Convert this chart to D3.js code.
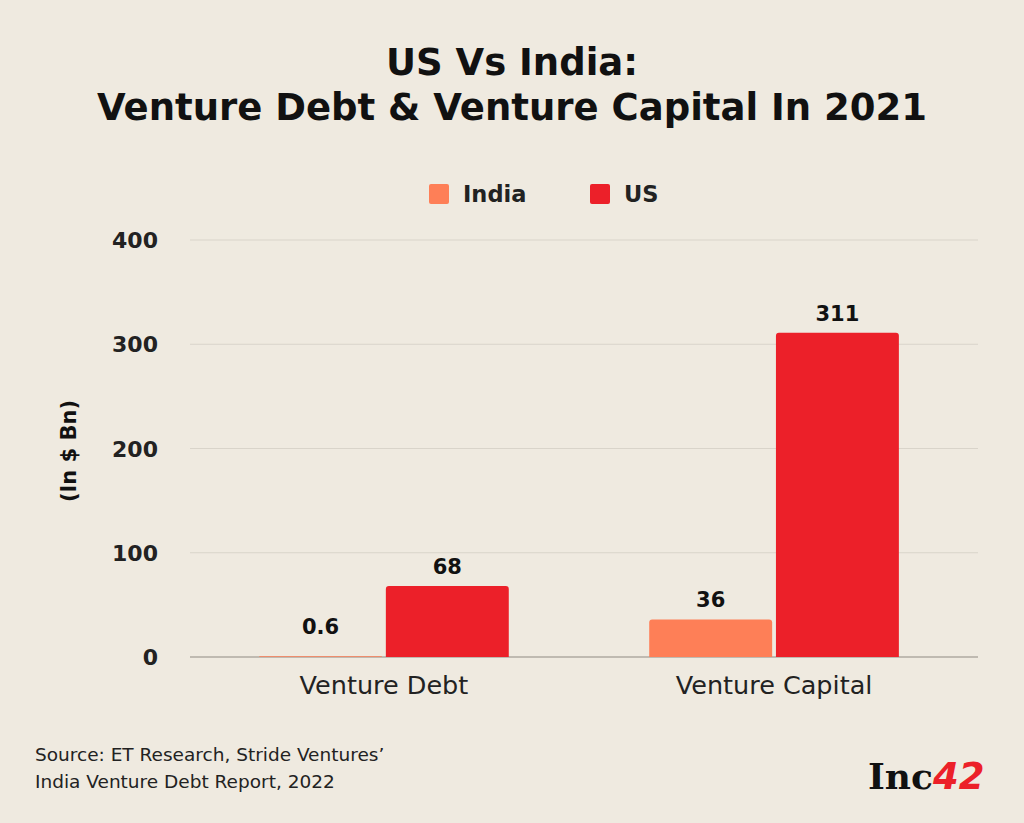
<!DOCTYPE html>
<html><head><meta charset="utf-8">
<script src="https://cdn.jsdelivr.net/npm/d3@7"></script>
<style>body{margin:0;background:#EFEAE0;} svg{display:block;}</style>
</head><body>
<svg id="c" width="1024" height="823"></svg>
<script>
const categories = ["Venture Debt", "Venture Capital"];
const seriesNames = ["India", "US"];
const indiaValues = [0.6, 36];
const usValues = [68, 311];
const valueLabels = [["0.6", "68"], ["36", "311"]];
const yTicks = [0, 100, 200, 300, 400];
const colors = {India: "#FE7F57", US: "#EC2029"};

(function(){
const svg = d3.select("#c");
const W = 1024, H = 823;
svg.append("rect").attr("width", W).attr("height", H).attr("fill", "#EFEAE0");

const font = "'DejaVu Sans', Inter, sans-serif";
const pLeft = 190, pRight = 978, pTop = 240, pBottom = 657;

const y = d3.scaleLinear().domain([0, 400]).range([pBottom, pTop]);
const x0 = d3.scaleBand().domain(categories).range([pLeft - 5, pRight - 5]).paddingInner(0.36).paddingOuter(0.19);
const x1 = d3.scaleBand().domain(seriesNames).range([0, x0.bandwidth()]).paddingInner(0.03);

// title
const title = svg.append("text").attr("text-anchor", "middle").attr("font-family", font)
  .attr("font-weight", 700).attr("font-size", 37).attr("fill", "#111");
title.append("tspan").attr("x", 512).attr("y", 75).text("US Vs India:");
title.append("tspan").attr("x", 512).attr("y", 120).text("Venture Debt & Venture Capital In 2021");

// legend
const legend = [{n:"India", x:429}, {n:"US", x:590}];
legend.forEach(l => {
  svg.append("rect").attr("x", l.x).attr("y", 184).attr("width", 20).attr("height", 20).attr("rx", 2)
    .attr("fill", colors[l.n]);
  svg.append("text").attr("x", l.x + 34).attr("y", 202).attr("font-family", font).attr("font-weight", 700)
    .attr("font-size", 22.5).attr("fill", "#222").text(l.n);
});

// grid
svg.append("g").selectAll("line").data(yTicks).join("line")
  .attr("x1", pLeft).attr("x2", pRight).attr("y1", d => y(d)).attr("y2", d => y(d))
  .attr("stroke", d => d === 0 ? "#AFAAA2" : "#D9D4CA").attr("stroke-width", d => d === 0 ? 1.5 : 1);

// y axis labels
const yAxis = d3.axisLeft(y).tickValues(yTicks).tickSize(0).tickPadding(0);
const ya = svg.append("g").attr("transform", `translate(158,0)`).call(yAxis);
ya.select(".domain").remove();
ya.selectAll("text").attr("font-family", font).attr("font-weight", 700).attr("font-size", 22)
  .attr("fill", "#222").attr("dy", "0.35em");

svg.append("text").attr("transform", "translate(76,451) rotate(-90)").attr("text-anchor", "middle")
  .attr("font-family", font).attr("font-weight", 700).attr("font-size", 21).attr("fill", "#111")
  .text("(In $ Bn)");

// bars
const data = categories.map((c, i) => ({cat: c, vals: [
  {s: "India", v: indiaValues[i], label: valueLabels[i][0]},
  {s: "US", v: usValues[i], label: valueLabels[i][1]}]}));

const g = svg.append("g").selectAll("g").data(data).join("g")
  .attr("transform", d => `translate(${x0(d.cat)},0)`);

function barPath(x, yT, w, h, r) {
  r = Math.min(r, h);
  return `M${x},${yT + h}V${yT + r}Q${x},${yT} ${x + r},${yT}H${x + w - r}Q${x + w},${yT} ${x + w},${yT + r}V${yT + h}Z`;
}
g.selectAll("path").data(d => d.vals).join("path")
  .attr("d", d => barPath(x1(d.s), y(d.v), x1.bandwidth(), y(0) - y(d.v), 3))
  .attr("fill", d => colors[d.s]);

g.selectAll("text.v").data(d => d.vals).join("text").attr("class", "v")
  .attr("x", d => x1(d.s) + x1.bandwidth() / 2)
  .attr("y", d => y(d.v) - (d.v < 5 ? 22 : 12))
  .attr("text-anchor", "middle").attr("font-family", font).attr("font-weight", 700)
  .attr("font-size", 21).attr("fill", "#111").text(d => d.label);

// x labels
svg.append("g").selectAll("text").data(categories).join("text")
  .attr("x", d => x0(d) + x0.bandwidth() / 2).attr("y", 694)
  .attr("text-anchor", "middle").attr("font-family", font).attr("font-size", 25.5)
  .attr("fill", "#222").text(d => d);

// source
const src = svg.append("text").attr("font-family", font).attr("font-size", 18.5).attr("fill", "#222");
src.append("tspan").attr("x", 35).attr("y", 761).text("Source: ET Research, Stride Ventures\u2019");
src.append("tspan").attr("x", 35).attr("y", 788).text("India Venture Debt Report, 2022");

// logo
const logo = svg.append("text").attr("x", 868).attr("y", 789).attr("font-family", "'DejaVu Serif', serif")
  .attr("font-weight", 700).attr("font-size", 36);
logo.append("tspan").attr("fill", "#111").text("Inc");
logo.append("tspan").attr("fill", "#EC2029").attr("font-family", "'DejaVu Sans', sans-serif").attr("font-weight", 700).attr("font-style", "italic").attr("font-size", 37).text("42");
})();
</script>
</body></html>
